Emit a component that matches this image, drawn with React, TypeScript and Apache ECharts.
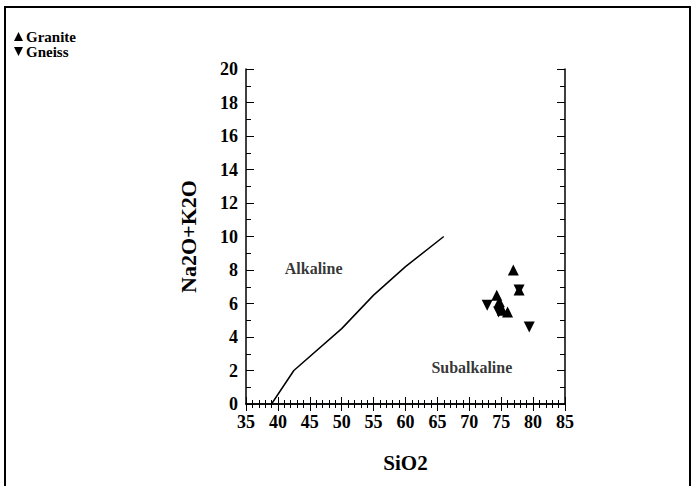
import React, { useEffect, useRef } from "react";
import * as echarts from "echarts";

const graniteSiO2 = [76.9, 77.8, 74.3, 74.7, 75.2, 76.0];
const graniteAlk = [8.0, 6.8, 6.5, 6.1, 5.6, 5.5];
const gneissSiO2 = [77.8, 72.8, 74.6, 79.4];
const gneissAlk = [6.8, 5.9, 5.5, 4.6];
const boundarySiO2 = [39, 42.5, 50, 55, 60, 66];
const boundaryAlk = [0, 2, 4.5, 6.5, 8.2, 10];
const regionNames = ["Alkaline", "Subalkaline"];
const regionSiO2 = [45.6, 70.4];
const regionAlk = [8.1, 2.2];

const FONT = "'Liberation Serif', 'Times New Roman', serif";
const UP = "path://M5,0L10,10L0,10Z";
const DOWN = "path://M0,0L10,0L5,10Z";

export default function App() {
  const ref = useRef<HTMLDivElement>(null);
  useEffect(() => {
    if (!ref.current) return;
    const chart = echarts.init(ref.current, null, { renderer: "svg" });
    const axisCommon = {
      axisLine: { lineStyle: { color: "#000", width: 1.5 } },
      splitLine: { show: false },
    };
    chart.setOption({
      animation: false,
      backgroundColor: "#fff",
      grid: { left: 246, right: 131, top: 69, bottom: 82, containLabel: false },
      legend: {
        orient: "vertical",
        left: 9,
        top: 24,
        itemWidth: 9,
        itemHeight: 9,
        itemGap: 0,
        data: ["Granite", "Gneiss"],
        textStyle: { fontFamily: FONT, fontWeight: "bold", fontSize: 15, color: "#000", padding: [0, 0, 0, -2] },
      },
      graphic: [
        {
          type: "rect",
          shape: { x: 5, y: 7, width: 685, height: 490 },
          style: { fill: "none", stroke: "#000", lineWidth: 2 },
          silent: true,
        },
      ],
      xAxis: [
        {
          type: "value",
          min: 35,
          max: 85,
          interval: 5,
          name: "SiO2",
          nameLocation: "middle",
          nameGap: 48,
          nameTextStyle: { fontFamily: FONT, fontWeight: "bold", fontSize: 21, color: "#000" },
          axisLabel: { fontFamily: FONT, fontWeight: "bold", fontSize: 18, color: "#000", margin: 9 },
          axisTick: { inside: true, length: 7, lineStyle: { color: "#000" } },
          minorTick: { show: true, splitNumber: 5, length: 4, lineStyle: { color: "#000" } },
          ...axisCommon,
        },
        {
          type: "value",
          position: "top",
          min: 35,
          max: 85,
          interval: 5,
          axisLabel: { show: false },
          axisTick: { inside: true, length: 7, lineStyle: { color: "#000" } },
          minorTick: { show: true, splitNumber: 5, length: 4, lineStyle: { color: "#000" } },
          ...axisCommon,
        },
      ],
      yAxis: [
        {
          type: "value",
          min: 0,
          max: 20,
          interval: 2,
          name: "Na2O+K2O",
          nameLocation: "middle",
          nameGap: 47,
          nameTextStyle: { fontFamily: FONT, fontWeight: "bold", fontSize: 22, color: "#000" },
          axisLabel: { fontFamily: FONT, fontWeight: "bold", fontSize: 18, color: "#000", margin: 8 },
          axisTick: { inside: true, length: 8, lineStyle: { color: "#000" } },
          minorTick: { show: true, splitNumber: 2, length: 5, lineStyle: { color: "#000" } },
          ...axisCommon,
        },
        {
          type: "value",
          position: "right",
          min: 0,
          max: 20,
          interval: 2,
          axisLabel: { show: false },
          axisTick: { inside: true, length: 8, lineStyle: { color: "#000" } },
          minorTick: { show: true, splitNumber: 2, length: 5, lineStyle: { color: "#000" } },
          ...axisCommon,
        },
      ],
      series: [
        {
          name: "Boundary",
          type: "line",
          xAxisIndex: 0,
          yAxisIndex: 0,
          data: boundarySiO2.map((x, i) => [x, boundaryAlk[i]]),
          showSymbol: false,
          symbol: "none",
          lineStyle: { color: "#000", width: 1.5 },
          silent: true,
        },
        {
          name: "Granite",
          type: "scatter",
          xAxisIndex: 0,
          yAxisIndex: 0,
          symbol: UP,
          symbolSize: 11,
          itemStyle: { color: "#000", opacity: 1 },
          data: graniteSiO2.map((x, i) => [x, graniteAlk[i]]),
        },
        {
          name: "Gneiss",
          type: "scatter",
          xAxisIndex: 0,
          yAxisIndex: 0,
          symbol: DOWN,
          symbolSize: 11,
          itemStyle: { color: "#000", opacity: 1 },
          data: gneissSiO2.map((x, i) => [x, gneissAlk[i]]),
        },
        {
          name: "Regions",
          type: "scatter",
          xAxisIndex: 0,
          yAxisIndex: 0,
          symbolSize: 0,
          silent: true,
          label: {
            show: true,
            position: "inside",
            formatter: (p: any) => p.name,
            fontFamily: FONT,
            fontWeight: "bold",
            fontSize: 16,
            color: "#000",
          },
          data: regionNames.map((n, i) => ({ name: n, value: [regionSiO2[i], regionAlk[i]] })),
        },
      ],
    });
    return () => chart.dispose();
  }, []);
  return (
    <div
      ref={ref}
      style={{ position: "fixed", left: 0, top: 0, width: 696, height: 486, background: "#fff" }}
    />
  );
}
